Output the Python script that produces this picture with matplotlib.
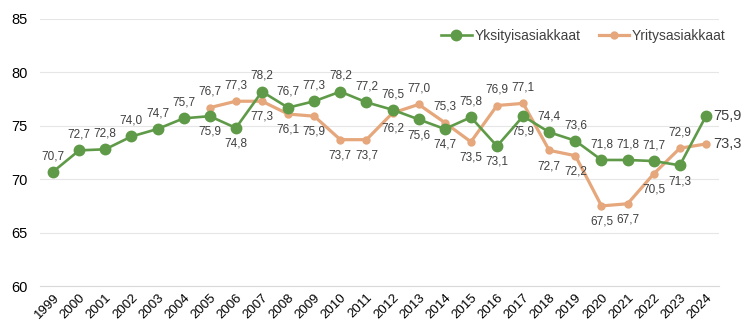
import matplotlib
matplotlib.use("Agg")
import matplotlib.pyplot as plt

years = [str(y) for y in range(1999, 2025)]
yksityis = [70.7, 72.7, 72.8, 74.0, 74.7, 75.7, 75.9, 74.8, 78.2, 76.7, 77.3, 78.2, 77.2,
            76.5, 75.6, 74.7, 75.8, 73.1, 75.9, 74.4, 73.6, 71.8, 71.8, 71.7, 71.3, 75.9]
yritys_years = [str(y) for y in range(2005, 2025)]
yritys = [76.7, 77.3, 77.3, 76.1, 75.9, 73.7, 73.7, 76.2, 77.0, 75.3, 73.5, 76.9, 77.1,
          72.7, 72.2, 67.5, 67.7, 70.5, 72.9, 73.3]
# label placement: 'a' above, 'b' below, 'r' right
yks_pos = list("aaaaaabbaaaaaabbabbaaaaab") + ["r"]
yri_pos = list("aabbbbbbaabaabbbbba") + ["r"]

green = "#5F9A48"
orange = "#E5A77B"
txt = "#404040"

plt.rcParams['font.family'] = ['Liberation Sans', 'DejaVu Sans']
fig = plt.figure(figsize=(7.46, 3.27), dpi=100)
ax = fig.add_axes([40/746, 1 - 286/327, (719-40)/746, (286-19)/327])

x1 = list(range(len(years)))
x2 = [years.index(y) for y in yritys_years]

ax.plot(x2, yritys, color=orange, lw=2.3, marker='o', ms=5, label='Yritysasiakkaat', zorder=3)
ax.plot(x1, yksityis, color=green, lw=1.9, marker='o', ms=7.5, label='Yksityisasiakkaat', zorder=4)

def lab(xs, vals, pos):
    for x, v, p in zip(xs, vals, pos):
        s = f"{v:.1f}".replace('.', ',')
        if p == 'a':
            ax.annotate(s, (x, v), xytext=(0, 7), textcoords='offset points',
                        ha='center', va='bottom', fontsize=8.5, color=txt)
        elif p == 'b':
            ax.annotate(s, (x, v), xytext=(0, -7), textcoords='offset points',
                        ha='center', va='top', fontsize=8.5, color=txt)
        else:
            ax.annotate(s, (x, v), xytext=(5, 0), textcoords='offset points',
                        ha='left', va='center', fontsize=10.5, color=txt)

lab(x1, yksityis, yks_pos)
lab(x2, yritys, yri_pos)

ax.set_xlim(-0.5, len(years) - 0.5)
ax.set_ylim(60, 85)
ax.set_yticks([60, 65, 70, 75, 80, 85])
ax.set_xticks(x1)
ax.set_xticklabels(years, rotation=45, ha='right', rotation_mode='anchor', fontsize=9.5, color='black')
ax.tick_params(axis='y', labelsize=10.5, labelcolor='black', length=0, pad=9)
ax.tick_params(axis='x', length=0, pad=4)
ax.grid(axis='y', color='#E6E6E6', lw=0.8)
ax.set_axisbelow(True)
for s in ['top', 'right', 'left']:
    ax.spines[s].set_visible(False)
ax.spines['bottom'].set_color('#D9D9D9')

h, l = ax.get_legend_handles_labels()
leg = ax.legend(h[::-1], l[::-1], loc='upper right', bbox_to_anchor=(1.018, 0.985), ncol=2,
                frameon=False, fontsize=10, handlelength=2.2, columnspacing=1.3,
                handletextpad=0.2, borderaxespad=0)
for t in leg.get_texts():
    t.set_color(txt)

fig.savefig("out.png", dpi=100)
